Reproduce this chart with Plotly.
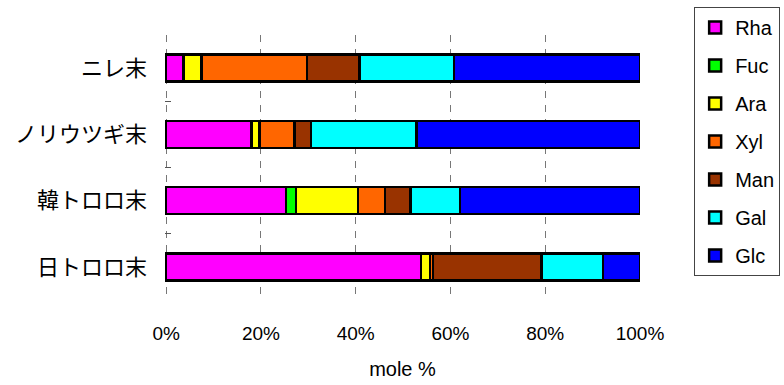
import plotly.graph_objects as go

# Sample names (top to bottom) and monosaccharide composition, mole %
samples = ["ニレ末", "ノリウツギ末", "韓トロロ末", "日トロロ末"]
sugars = ["Rha", "Fuc", "Ara", "Xyl", "Man", "Gal", "Glc"]
rha = [3.5, 18.0, 25.3, 53.8]
fuc = [0.3, 0.0, 2.1, 0.0]
ara = [3.7, 1.7, 13.1, 1.9]
xyl = [22.2, 7.4, 5.7, 0.6]
man = [11.1, 3.5, 5.4, 22.9]
gal = [19.9, 22.2, 10.4, 13.0]
glc = [39.3, 47.2, 38.0, 7.8]
colors = ["#FF00FF", "#00FF00", "#FFFF00", "#FF6600", "#993300", "#00FFFF", "#0000FF"]

pct_ticks = [0, 20, 40, 60, 80, 100]
pct_labels = ["0%", "20%", "40%", "60%", "80%", "100%"]

series = [rha, fuc, ara, xyl, man, gal, glc]

fig = go.Figure()
for name, vals, col in zip(sugars, series, colors):
    fig.add_trace(go.Bar(
        y=samples, x=vals, name=name, orientation="h",
        marker=dict(color=col, line=dict(color="black", width=2.5)),
        legendgroup=name,
    ))

font_family = "Liberation Sans, Arial, sans-serif"
jp_family = "Noto Sans CJK JP, sans-serif"

fig.update_layout(
    barmode="stack",
    bargap=0.59,
    width=784, height=385,
    margin=dict(l=165, r=144, t=35, b=85, autoexpand=False),
    paper_bgcolor="white", plot_bgcolor="white",
    font=dict(family=font_family, size=19, color="black"),
    legend=dict(
        x=1.114, y=1.106, xanchor="left", yanchor="top",
        bordercolor="#444444", borderwidth=1,
        font=dict(size=20), traceorder="grouped", tracegroupgap=9,
        itemwidth=30, maxheight=380,
    ),
    showlegend=True,
)

fig.update_xaxes(
    range=[-0.25, 100], tickvals=pct_ticks, ticktext=pct_labels,
    showgrid=True, gridcolor="#777777", gridwidth=1, griddash="7px,7px",
    zeroline=False, showline=False, ticks="", ticklabelstandoff=20,
    tickfont=dict(size=19),
    title=dict(text="mole %", font=dict(size=20), standoff=18),
)
fig.update_yaxes(
    categoryorder="array", categoryarray=samples[::-1],
    showgrid=False, zeroline=False, showline=False,
    ticks="inside", tickson="boundaries", ticklen=6, tickcolor="#555555",
    tickfont=dict(size=22, family=jp_family), ticklabelstandoff=17,
)

fig.write_html("out.html")
